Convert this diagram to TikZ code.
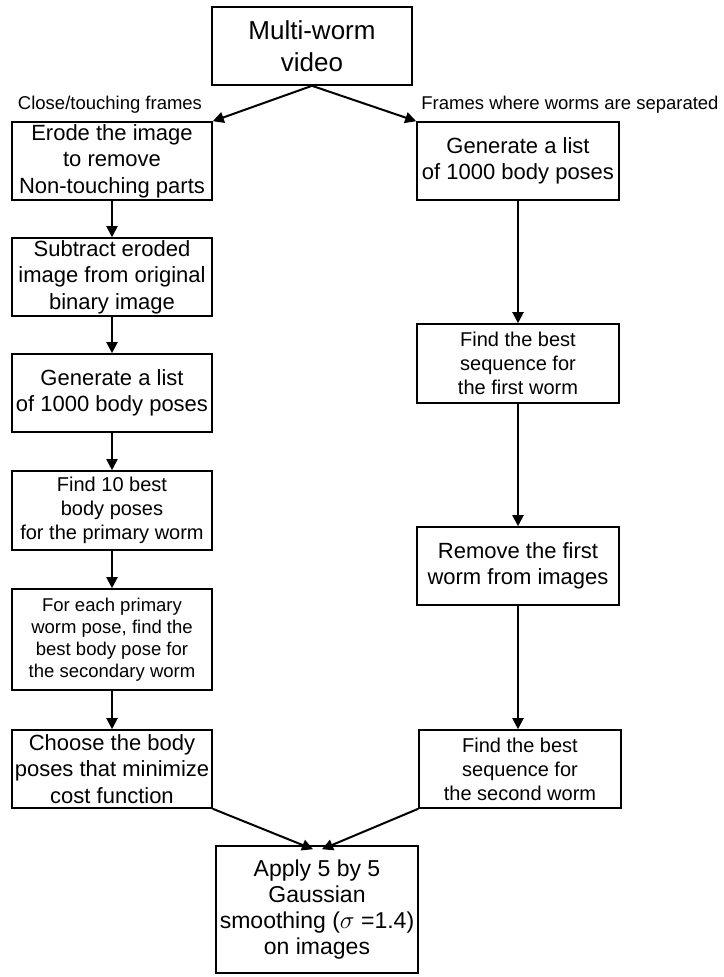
\documentclass[tikz,border=0pt]{standalone}
\usepackage{fontspec}
\setmainfont{Liberation Sans}
\usetikzlibrary{arrows.meta,calc}
\tikzset{
  box/.style={draw=black, line width=1.6pt, minimum width=200pt, inner sep=0pt, align=center, font=\fontsize{22}{26.5}\selectfont},
  small/.style={font=\fontsize{20}{24}\selectfont},
  tiny/.style={font=\fontsize{18.5}{22}\selectfont},
  lbl/.style={inner sep=0pt, font=\fontsize{18.5}{22}\selectfont},
  arr/.style={line width=2pt, -{Triangle[length=11pt,width=11pt]}}
}
\begin{document}
\begin{tikzpicture}[x=1pt,y=-1pt]
\useasboundingbox (0,0) rectangle (723,977);
% top
\node[box, minimum height=78pt, font=\fontsize{26}{32}\selectfont] (top) at (312,46) {Multi-worm\\video};
\node[lbl] (ll) at (110,105) {Close/touching frames};
\node[lbl] (rl) at (570,105) {Frames where worms are separated};
% left column
\node[box, minimum height=78pt] (l1) at (112,161) {Erode the image\\to remove\\Non-touching parts};
\node[box, minimum height=78pt] (l2) at (112,277) {Subtract eroded\\image from original\\binary image};
\node[box, minimum height=78pt] (l3) at (112,393) {Generate a list\\of 1000 body poses};
\node[box, small, minimum height=79pt] (l4) at (112,510.5) {Find 10 best\\body poses\\for the primary worm};
\node[box, tiny, minimum height=101pt] (l5) at (112,639.5) {For each primary\\worm pose, find the\\best body pose for\\the secondary worm};
\node[box, minimum height=78pt] (l6) at (112,769) {Choose the body\\poses that minimize\\cost function};
% right column
\node[box, minimum width=202pt, minimum height=78pt] (r1) at (518,161) {Generate a list\\of 1000 body poses};
\node[box, small, minimum width=202pt, minimum height=79pt] (r2) at (518,363.5) {Find the best\\sequence for\\the first worm};
\node[box, minimum width=202pt, minimum height=78pt] (r3) at (518,566) {Remove the first\\worm from images};
\node[box, small, minimum width=202pt, minimum height=78pt] (r4) at (520,769) {Find the best\\sequence for\\the second worm};
% bottom
\node[box, minimum width=202pt, minimum height=127pt, font=\fontsize{23}{26.3}\selectfont] (bot) at (317,909.5) {Apply 5 by 5\\Gaussian\\smoothing ($\sigma$ =1.4)\\on images};
\coordinate (bl) at ($(bot.north)+(-4,4)$);
\coordinate (br) at ($(bot.north)+(5,4)$);
% arrows
\draw[arr] (top.south) -- (l1.north east);
\draw[arr] (top.south) -- (r1.north west);
\draw[arr] (l1) -- (l2);
\draw[arr] (l2) -- (l3);
\draw[arr] (l3) -- (l4);
\draw[arr] (l4) -- (l5);
\draw[arr] (l5) -- (l6);
\draw[arr] (r1) -- (r2);
\draw[arr] (r2) -- (r3);
\draw[arr] (r3.south) -- (r3.south |- r4.north);
\draw[arr] (l6.south east) -- (bl);
\draw[arr] (r4.south west) -- (br);
\end{tikzpicture}
\end{document}
